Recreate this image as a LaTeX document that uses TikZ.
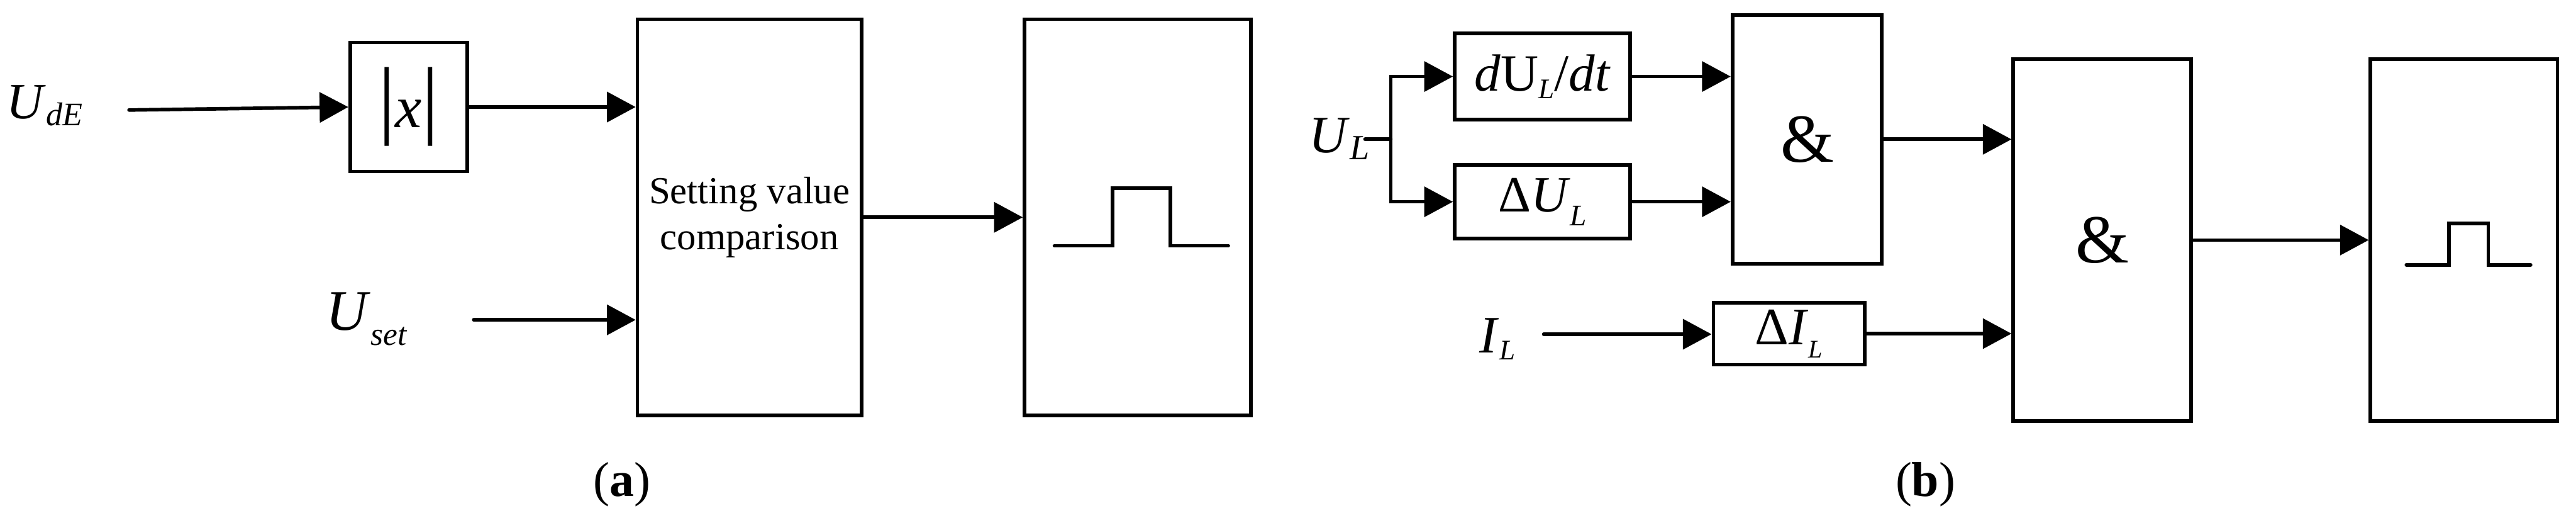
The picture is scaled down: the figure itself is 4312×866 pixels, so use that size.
\documentclass[tikz,border=0pt]{standalone}
\usepackage{fontspec}
\setmainfont{Liberation Serif}
\usetikzlibrary{arrows.meta,calc}
\newcommand{\lowsub}[3]{\raisebox{-#1}{\fontsize{#2}{#2}\selectfont\itshape #3}}
\newcommand{\fsz}[1]{\fontsize{#1}{#1}\selectfont}
\tikzset{
  box/.style={draw, line width=1.2pt, inner sep=0pt, anchor=center},
  conn/.style={line width=1.2pt, line cap=round, -{Triangle[length=9.6pt,width=10pt]}},
  plain/.style={line width=1.2pt, line cap=round},
  lbl/.style={inner sep=0pt, anchor=base west},
  captext/.style={inner sep=0pt, anchor=base, font=\fsz{16.4}},
}
\begin{document}
\begin{tikzpicture}[x=0.2pt,y=-0.2pt]
\useasboundingbox (0,0) rectangle (4312,866);
% ---------- (a) ----------
\node[lbl] (ude) at (10,198) {\fsz{17}\textit{U}\lowsub{2.4pt}{11}{dE}};
\coordinate (udein) at (216,184);
\node[box, minimum width=39.2pt, minimum height=43.2pt] (abs) at (684,179) {{\fsz{29}|}{\fsz{20}\textit{x}}{\fsz{29}|}};
\node[lbl] (uset) at (545,552) {\fsz{19.2}\textit{U}\lowsub{5pt}{10.8}{set}};
\coordinate (usetin) at (793,535);
\node[box, minimum width=75pt, minimum height=132.6pt, align=center, font=\fontsize{12.8}{15.4}\selectfont] (cmp) at (1254.5,363.5) {Setting value\\comparison};
\node[box, minimum width=75.8pt, minimum height=132.6pt] (pa) at (1904.5,363.5) {};
\draw[plain] (1765,411) -- (1862,411) -- (1862,315) -- (1959,315) -- (1959,411) -- (2056,411);
\draw[conn] (udein) -- (abs.west);
\draw[conn] (abs.east) -- (abs.east -| cmp.west);
\draw[conn] (usetin) -- (usetin -| cmp.west);
\draw[conn] (cmp.east) -- (pa.west);
\node[captext] (capa) at (1041,830) {(\textbf{a})};
% ---------- (b) ----------
\node[lbl] (ul) at (2190,255) {\fsz{17.6}\textit{U}\lowsub{2.4pt}{11.8}{L}};
\coordinate (ulin) at (2285,233);
\coordinate (jn) at (2328,233);
\node[box, minimum width=58.8pt, minimum height=28.8pt, font=\fsz{17.5}] (du) at (2582,128) {\textit{d}U\lowsub{2.4pt}{9.5}{L}/\textit{dt}};
\node[box, minimum width=58.8pt, minimum height=24.6pt, font=\fsz{17}] (dul) at (2582,337.5) {Δ\textit{U}\lowsub{4.6pt}{10}{L}};
\node[box, minimum width=50pt, minimum height=83.2pt, font=\fsz{23}] (and1) at (3025,233) {\&};
\node[lbl] (il) at (2476,590) {\fsz{17.6}\textit{I}\lowsub{2.4pt}{9.5}{L}};
\coordinate (ilin) at (2584,559);
\node[box, minimum width=50.6pt, minimum height=20.8pt, font=\fsz{17.6}] (dil) at (2994.5,558) {Δ\textit{I}\lowsub{4.4pt}{8.5}{L}};
\node[box, minimum width=59.6pt, minimum height=121pt, font=\fsz{23}] (and2) at (3519,401.5) {\&};
\node[box, minimum width=62.6pt, minimum height=121pt] (pb) at (4124.5,401.5) {};
\draw[plain] (4028,443) -- (4099,443) -- (4099,374) -- (4165,374) -- (4165,443) -- (4236,443);
\draw[plain] (ulin) -- (jn);
\draw[conn] (jn) |- (du.west);
\draw[conn] (jn) |- (dul.west);
\draw[conn] (du.east) -- (du.east -| and1.west);
\draw[conn] (dul.east) -- (dul.east -| and1.west);
\draw[conn] (ilin) -- (ilin -| dil.west);
\draw[conn] (dil.east) -- (dil.east -| and2.west);
\draw[conn] (and1.east) -- (and1.east -| and2.west);
\draw[conn] (and2.east) -- (pb.west);
\node[captext] (capb) at (3223,830) {(\textbf{b})};
\end{tikzpicture}
\end{document}
